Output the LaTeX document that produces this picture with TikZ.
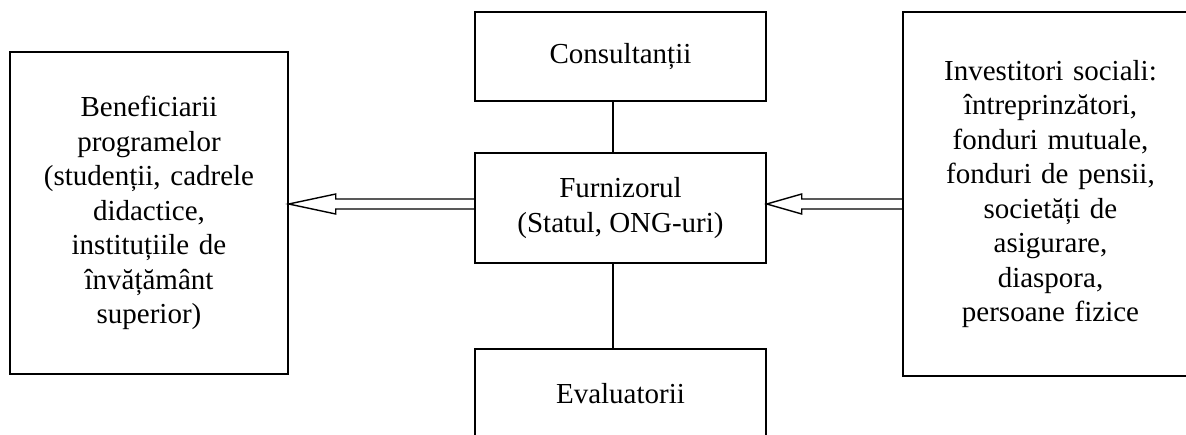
\documentclass[tikz,border=0pt]{standalone}
\usepackage{fontspec}
\setmainfont{Liberation Serif}
\usetikzlibrary{calc}
\tikzset{
  box/.style={
    draw,
    line width=1.5pt,
    align=center,
    inner sep=0pt,
    font=\fontsize{29}{34.5}\selectfont},
  link/.style={
    line width=1.5pt},
  hollow/.style={
    line width=1.4pt,
    line join=miter}
  }
\newcommand{\hollowarrow}[3]{% from, to, head length
  \draw[hollow] ($(#1)+(0,-5)$) -- ($(#2)+(#3,-5)$) -- ($(#2)+(#3,-10)$)
    -- (#2) -- ($(#2)+(#3,10)$) -- ($(#2)+(#3,5)$) -- ($(#1)+(0,5)$);}

\begin{document}
\begin{tikzpicture}[x=1pt,y=-1pt]
      \useasboundingbox (0,0) rectangle (1186,434);
      \node[box, minimum width=278pt, minimum height=322pt, text width=270pt] (benef) at (149,213)
        {Beneficiarii\\programelor\\(studenții, cadrele\\didactice,\\instituțiile de\\învățământ\\superior)};
      \node[box, minimum width=291pt, minimum height=89pt] (cons) at (620.5,56.5) {Consultanții};
      \node[box, minimum width=291pt, minimum height=110pt] (furn) at (620.5,208) {Furnizorul\\(Statul, ONG-uri)};
      \node[box, minimum width=291pt, minimum height=90pt] (eval) at (620.5,394) {Evaluatorii};
      \node[box, minimum width=295pt, minimum height=364pt, text width=285pt] (inv) at (1050.5,194)
        {Investitori sociali:\\întreprinzători,\\fonduri mutuale,\\fonduri de pensii,\\societăți de\\asigurare,\\diaspora,\\persoane fizice};
      \coordinate (row) at (0,204);
      \coordinate (link) at (613,0);
      \coordinate (furnL) at (furn.west |- row);
      \coordinate (furnR) at (furn.east |- row);
      \coordinate (benefR) at (benef.east |- row);
      \coordinate (invL) at (inv.west |- row);
      \draw [link]
      (cons.south -| link) -- (furn.north -| link)
      (furn.south -| link) -- (eval.north -| link);
      \hollowarrow{furnL}{benefR}{47}
      \hollowarrow{invL}{furnR}{35}
    \end{tikzpicture}
\end{document}
